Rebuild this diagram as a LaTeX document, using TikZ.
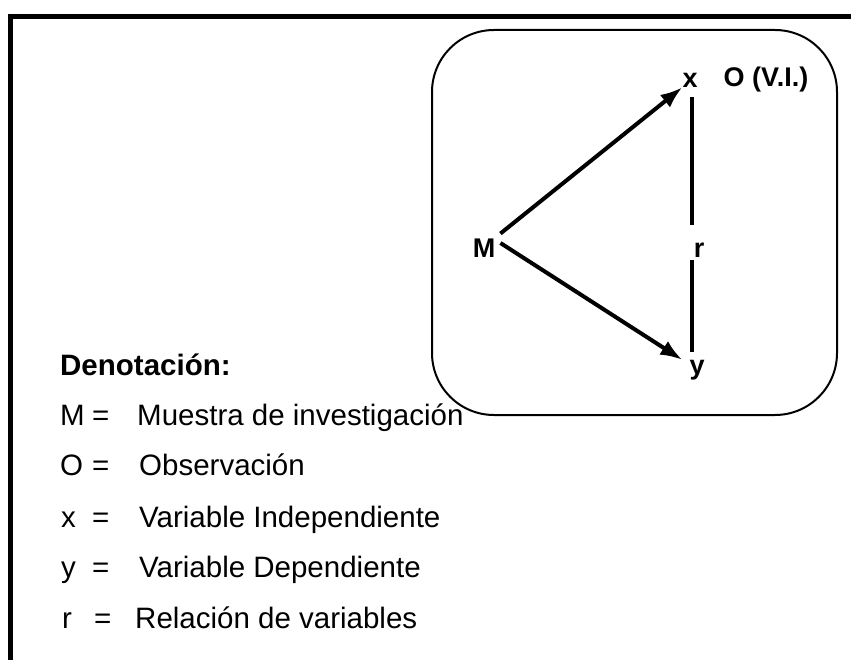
\documentclass[tikz,border=0pt]{standalone}
\usepackage{fontspec}
\setmainfont{Liberation Sans}
\usetikzlibrary{arrows.meta}
\begin{document}
\begin{tikzpicture}[x=1pt,y=-1pt,
  frame/.style={line width=5pt},
  panel/.style={line width=2pt, rounded corners=62pt},
  lab/.style={font=\fontsize{27}{31}\selectfont\bfseries, inner sep=0pt},
  conn/.style={line width=4pt},
  arr/.style={conn, -{Latex[length=22pt,width=16pt]}},
  txt/.style={font=\fontsize{29.5}{35}\selectfont, anchor=base west, inner sep=0pt},
  head/.style={txt, font=\fontsize{29.5}{35}\selectfont\bfseries}]
\useasboundingbox (0,0) rectangle (851,660);
% outer frame (top and left only)
\draw[frame] (10.5,662) -- (10.5,16.5) -- (853,16.5);
% rounded panel
\draw[panel] (432,30) rectangle (837,415);
% diagram nodes
\node[lab] (x) at (690,80) {x};
\node[lab] (O) at (766,80) {O (V.I.)};
\node[lab, inner sep=5pt] (M) at (484,248) {M};
\node[lab] (r) at (699,250) {r};
\node[lab] (y) at (697,370) {y};
% connectors
\draw[arr] (M.north east) -- (x.south west);
\draw[arr] ([yshift=5pt]M.east) -- ([xshift=-7pt]y.north west);
\draw[conn, shorten <=10pt, shorten >=18pt] ([xshift=2pt]x.south) -- ([xshift=-7pt]r.north);
\draw[conn, shorten <=3pt, shorten >=7.5pt] ([xshift=-7pt]r.south) -- ([xshift=-5pt]y.north);
% legend
\node[head] (den) at (60,375) {Denotación:};
\node[txt] (kM) at (60,425) {M};
\node[txt] (eM) at (92,425) {=};
\node[txt] (dM) at (137,425) {Muestra de investigación};
\node[txt] (kO) at (60,475) {O};
\node[txt] (eO) at (92,475) {=};
\node[txt] (dO) at (139,475) {Observación};
\node[txt] (kx) at (61,527) {x};
\node[txt] (ex) at (92,527) {=};
\node[txt] (dx) at (139,527) {Variable Independiente};
\node[txt] (ky) at (61,577) {y};
\node[txt] (ey) at (92,577) {=};
\node[txt] (dy) at (139,577) {Variable Dependiente};
\node[txt] (kr) at (62,628) {r};
\node[txt] (er) at (94,628) {=};
\node[txt] (dr) at (135,628) {Relación de variables};
\end{tikzpicture}
\end{document}
